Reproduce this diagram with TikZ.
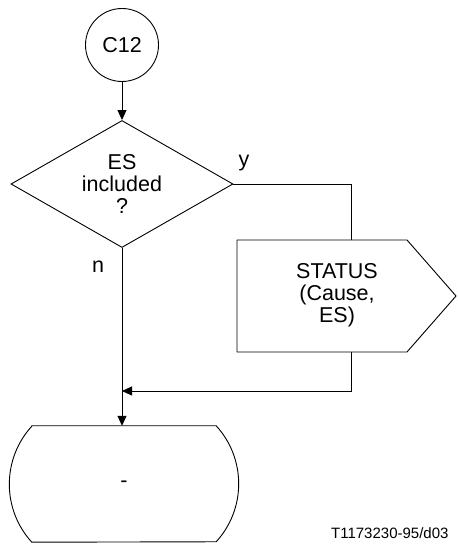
\documentclass[tikz,border=0pt]{standalone}
\usepackage{fontspec}
\setmainfont{Liberation Sans}
\usetikzlibrary{shapes.geometric,shapes.symbols,arrows.meta,positioning}

\tikzset{
	every node/.style={font=\fontsize{21.5}{22}\selectfont, align=center},
	line/.style={line width=0.9pt},
	arrow/.style={line, -{Triangle[length=10pt,width=9pt]}},
	connector/.style={draw, line, circle, minimum size=73pt, inner sep=0pt},
	decision/.style={draw, line, diamond, aspect=1.75, minimum width=222pt, minimum height=127pt, inner sep=0pt},
	signalbox/.style={draw, line, signal, signal to=east, signal from=nowhere, minimum width=219pt, minimum height=112pt, signal pointer angle=97.6},
	terminal/.style={minimum width=184pt, minimum height=116pt, inner sep=0pt},
}

\begin{document}
\begin{tikzpicture}[x=1pt, y=1pt]
	\useasboundingbox (0,0) rectangle (457,545);

	\node[connector] (c12) at (122,500) {C12};
	\node[decision] (es) at (122,361) {ES\\included\\?};
	\node[signalbox] (status) at (322,249) {\begin{tabular}{@{\hspace{30pt}}c@{}}STATUS\\(Cause,\\ES)\end{tabular}};
	\node[terminal] (term) at (124,61) {-};

	\coordinate (ycorner) at (351,0 |- es.east);
	\coordinate (join) at (es.south |- 0,154);

	\draw[arrow] (c12) -- (es);
	\draw[line] (es.east) -- (ycorner) -- (ycorner |- status.north);
	\draw[arrow] (ycorner |- status.south) |- (join);
	\draw[arrow] (es.south) -- (es.south |- term.north);

	% terminal outline
	\draw[line] (term.north west) -- (term.north east)
		arc[start angle=42.4, end angle=-42.4, radius=86pt] -- (term.south west)
		arc[start angle=222.4, end angle=137.6, radius=86pt] -- cycle;

	\node[anchor=base] (yes) at (244,378) {y};
	\node[anchor=base] (no) at (98,272) {n};
	\node[anchor=base east, font=\fontsize{15}{17}\selectfont] (ref) at (452,6) {T1173230-95/d03};
\end{tikzpicture}
\end{document}
